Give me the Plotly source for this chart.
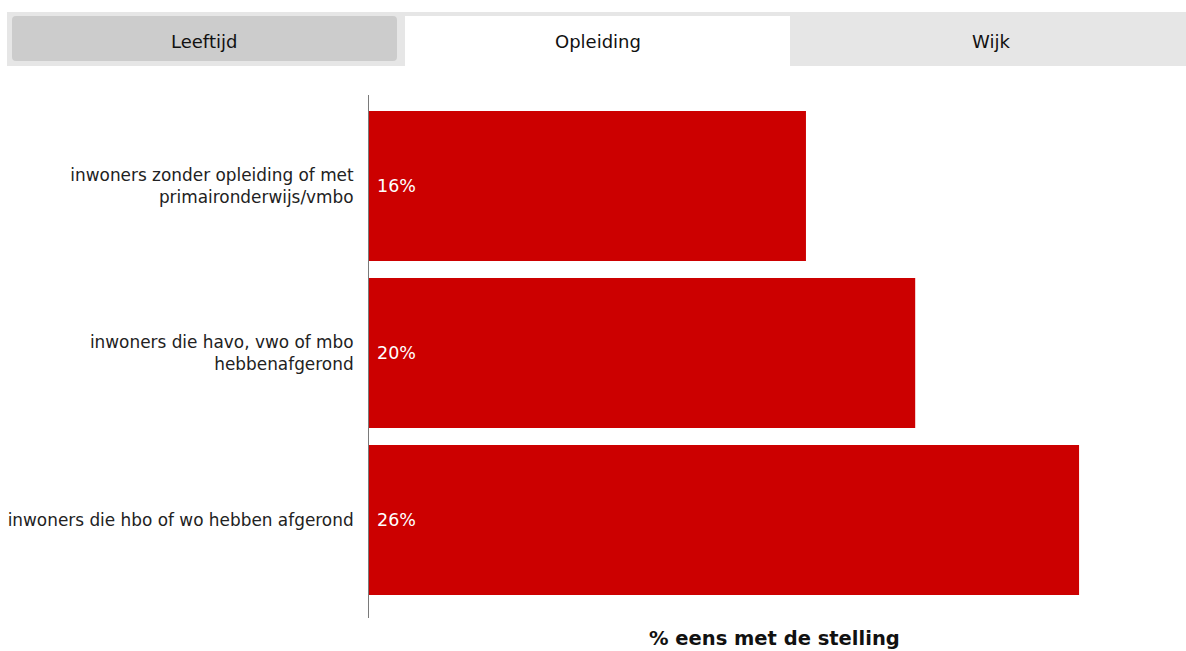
import plotly.graph_objects as go

categories = [
    "inwoners zonder opleiding of met<br>primaironderwijs/vmbo",
    "inwoners die havo, vwo of mbo<br>hebbenafgerond",
    "inwoners die hbo of wo hebben afgerond",
]
values = [16, 20, 26]
labels = ["16%", "20%", "26%"]
tabs = ["Leeftijd", "Opleiding", "Wijk"]

W, H = 1186, 651
L, R, T, B = 369, 6, 95, 33
pw, ph = W - L - R, H - T - B

def px(x):
    return (x - L) / pw

def py(y):
    return (H - B - y) / ph

FONT = "DejaVu Sans, Verdana, sans-serif"

fig = go.Figure(go.Bar(
    x=values, y=categories, orientation="h",
    marker=dict(color="#cc0000", line=dict(width=0)),
    hoverinfo="skip",
))

annotations = []
for v, c, t in zip(values, categories, labels):
    annotations.append(dict(x=0, y=c, xref="x", yref="y", text=t, showarrow=False,
                            xanchor="left", xshift=6, font=dict(color="white", size=17.5, family=FONT)))

annotations.append(dict(x=0.5, y=py(638), xref="paper", yref="paper", text="<b>% eens met de stelling</b>",
                        showarrow=False, xanchor="center", yanchor="middle",
                        font=dict(size=19.5, color="#111", family=FONT)))

shapes = [
    dict(type="rect", xref="paper", yref="paper", x0=px(7), x1=px(1186), y0=py(12), y1=py(66),
         fillcolor="#e6e6e6", line=dict(width=0), layer="below"),
    dict(type="path", xref="paper", yref="paper",
         path=(f"M {px(16)},{py(16)} L {px(393)},{py(16)} Q {px(397)},{py(16)} {px(397)},{py(20)} "
               f"L {px(397)},{py(57)} Q {px(397)},{py(61)} {px(393)},{py(61)} L {px(16)},{py(61)} "
               f"Q {px(12)},{py(61)} {px(12)},{py(57)} L {px(12)},{py(20)} Q {px(12)},{py(16)} {px(16)},{py(16)} Z"),
         fillcolor="#cccccc", line=dict(width=0), layer="below"),
    dict(type="rect", xref="paper", yref="paper", x0=px(405), x1=px(790), y0=py(16), y1=py(67),
         fillcolor="#ffffff", line=dict(width=0), layer="below"),
]
tab_centers = [204, 598, 991]
for name, cx in zip(tabs, tab_centers):
    annotations.append(dict(x=px(cx), y=py(41), xref="paper", yref="paper", text=name, showarrow=False,
                            xanchor="center", yanchor="middle", font=dict(size=18, color="#111", family=FONT)))

fig.update_layout(
    width=W, height=H,
    margin=dict(l=L, r=R, t=T, b=B),
    paper_bgcolor="white", plot_bgcolor="white",
    bargap=0.102,
    showlegend=False,
    shapes=shapes,
    annotations=annotations,
    font=dict(family=FONT, color="#222", size=16.9),
    xaxis=dict(range=[0, pw / 27.31], showgrid=False, zeroline=False, showticklabels=False,
               ticks="", showline=False, fixedrange=True),
    yaxis=dict(range=[2 + (618 - 520) / 167, -(186 - 95) / 167], showgrid=False, zeroline=False,
               showline=True, linecolor="#7a7a7a", linewidth=1, ticks="", ticklabelstandoff=11,
               tickfont=dict(size=16.9, color="#222", family=FONT), fixedrange=True),
)

fig.write_html("out.html", config={"displayModeBar": False},
               post_script="document.body.style.margin='0';document.body.style.overflow='hidden';")
